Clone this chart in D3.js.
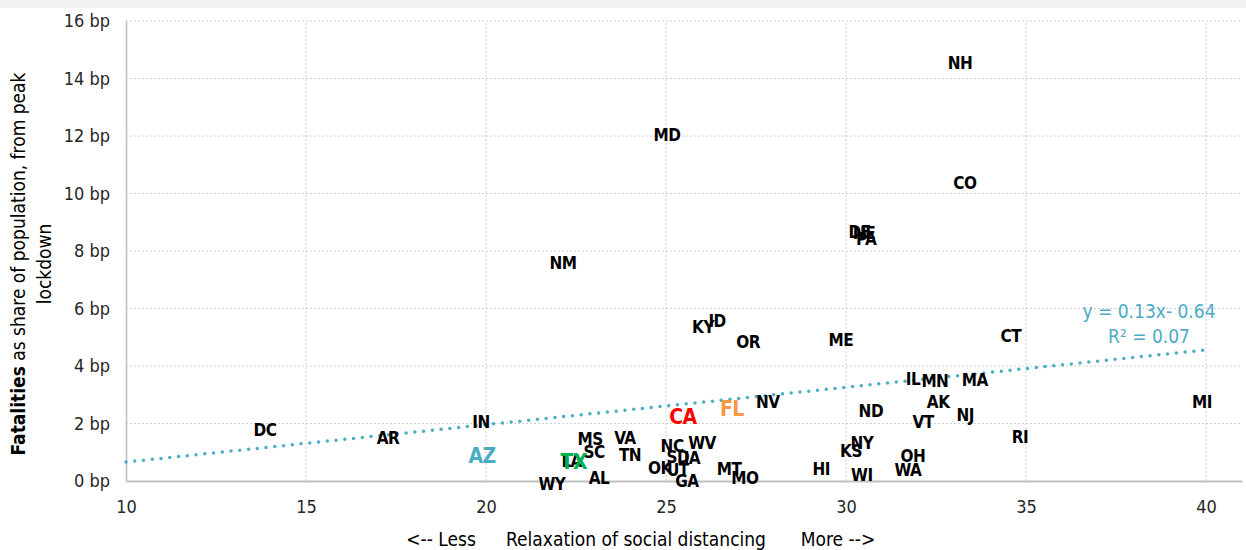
<!DOCTYPE html>
<meta charset="utf-8">
<style>
body { margin: 0; background: #fff; }
svg { display: block; }
svg text { font-family: "DejaVu Sans Condensed", "DejaVu Sans", sans-serif; font-stretch: condensed; }
.tick text { font-size: 18px; fill: #262626; }
.lbl { font-weight: bold; letter-spacing: -0.5px; }
.ttl { font-size: 19px; fill: #000; }
</style>
<script src="https://d3js.org/d3.v7.min.js"></script>
<body></body>
<script>

var width = 1246;
var height = 550;
var margin = { top: 21, right: 4, bottom: 69, left: 126 };

// state codes, social distancing relaxation (x), fatalities in bp (y)
var states = ['NH','MD','CO','DE','NE','PA','NM','KY','ID','OR','ME','CT','IL','MN','MA','AK','NJ','VT','ND','NV','FL','CA','MI','RI','DC','AR','IN','AZ','MS','SC','VA','TN','NC','WV','SD','IA','OK','UT','GA','LA','TX','WY','AL','MT','MO','HI','KS','NY','WI','OH','WA'];
var relaxation = [33.17,25.03,33.3,30.38,30.5,30.56,22.14,26.03,26.42,27.28,29.86,34.58,31.86,32.47,33.58,32.56,33.31,32.14,30.69,27.83,26.83,25.47,39.89,34.83,13.86,17.28,19.86,19.89,22.89,23.0,23.86,24.0,25.17,26.0,25.33,25.72,24.83,25.33,25.58,22.38,22.44,21.83,23.14,26.75,27.19,29.31,30.14,30.44,30.44,31.86,31.72];
var fatalities = [14.54,12.03,10.37,8.65,8.63,8.42,7.58,5.36,5.57,4.83,4.9,5.04,3.55,3.48,3.51,2.75,2.30,2.05,2.43,2.75,2.5,2.23,2.75,1.53,1.77,1.50,2.05,0.87,1.46,1.01,1.50,0.90,1.22,1.32,0.83,0.80,0.45,0.38,0.0,0.68,0.66,-0.1,0.1,0.42,0.1,0.42,1.04,1.32,0.21,0.87,0.38];

// highlighted states
var highlight = { CA: '#ff0000', FL: '#f79646', AZ: '#4bacc6', TX: '#00b050' };

var xTicks = [10, 15, 20, 25, 30, 35, 40];
var yTicks = [0, 2, 4, 6, 8, 10, 12, 14, 16];

// linear trend as printed on the chart
var trendSlope = 0.13;
var trendIntercept = -0.64;
var trendR2 = 0.07;
var trendRange = [10, 40];

var trendColor = '#4bacc6';

var svg = d3.select('body').append('svg')
	.attr('width', width)
	.attr('height', height);

svg.append('rect')
	.attr('width', width)
	.attr('height', 8)
	.attr('fill', '#f2f2f2');

var x = d3.scaleLinear().domain([10, 41]).range([margin.left, width - margin.right]);
var y = d3.scaleLinear().domain([0, 16]).range([height - margin.bottom, margin.top]);

//gridlines
svg.append('g')
	.selectAll('line')
	.data(yTicks.slice(1))
	.enter().append('line')
	.attr('x1', x(10)).attr('x2', x(41))
	.attr('y1', d => y(d)).attr('y2', d => y(d))
	.attr('stroke', '#d0d0d0')
	.attr('stroke-dasharray', '2,2');
svg.append('g')
	.selectAll('line')
	.data(xTicks.slice(1))
	.enter().append('line')
	.attr('x1', d => x(d)).attr('x2', d => x(d))
	.attr('y1', y(0)).attr('y2', y(16))
	.attr('stroke', '#d0d0d0')
	.attr('stroke-dasharray', '2,2');

//axes
var xAxis = svg.append('g')
	.attr('transform', 'translate(0,' + y(0) + ')')
	.call(d3.axisBottom(x).tickValues(xTicks).tickSize(0).tickPadding(19));
xAxis.select('.domain').attr('stroke', '#bfbfbf').attr('stroke-width', 2);

var yAxis = svg.append('g')
	.attr('transform', 'translate(' + x(10) + ',0)')
	.call(d3.axisLeft(y).tickValues(yTicks).tickSize(0).tickPadding(16).tickFormat(d => d + ' bp'));
yAxis.select('.domain').attr('stroke', '#bfbfbf').attr('stroke-width', 1.5);

//trend line
svg.append('line')
	.attr('x1', x(trendRange[0]))
	.attr('y1', y(trendSlope * trendRange[0] + trendIntercept))
	.attr('x2', x(trendRange[1]))
	.attr('y2', y(trendSlope * trendRange[1] + trendIntercept))
	.attr('stroke', trendColor)
	.attr('stroke-width', 3.5)
	.attr('stroke-linecap', 'round')
	.attr('stroke-dasharray', '0,8.8');

svg.append('text')
	.attr('class', 'ttl')
	.attr('x', 1149).attr('y', 318)
	.attr('text-anchor', 'middle')
	.style('fill', trendColor)
	.text('y = ' + trendSlope.toFixed(2) + 'x- ' + Math.abs(trendIntercept).toFixed(2));
svg.append('text')
	.attr('class', 'ttl')
	.attr('x', 1149).attr('y', 343)
	.attr('text-anchor', 'middle')
	.style('fill', trendColor)
	.text('R² = ' + trendR2.toFixed(2));

//state labels
var pts = states.map((s, i) => ({ s: s, x: relaxation[i], y: fatalities[i] }));
pts.sort((a, b) => (highlight[a.s] ? 1 : 0) - (highlight[b.s] ? 1 : 0));
svg.append('g')
	.selectAll('text')
	.data(pts)
	.enter().append('text')
	.attr('class', 'lbl')
	.attr('x', d => x(d.x))
	.attr('y', d => y(d.y))
	.attr('dy', '0.35em')
	.attr('text-anchor', 'middle')
	.attr('font-size', d => highlight[d.s] ? 21 : 17)
	.attr('fill', d => highlight[d.s] || '#000')
	.text(d => d.s);

//axis titles
var yt = svg.append('text')
	.attr('class', 'ttl')
	.attr('transform', 'translate(25,264) rotate(-90)')
	.attr('text-anchor', 'middle');
yt.append('tspan').attr('font-weight', 'bold').text('Fatalities');
yt.append('tspan').text(' as share of population, from peak');
svg.append('text')
	.attr('class', 'ttl')
	.attr('transform', 'translate(51,264) rotate(-90)')
	.attr('text-anchor', 'middle')
	.text('lockdown');

svg.append('text').attr('class', 'ttl').attr('x', 441).attr('y', 546).attr('text-anchor', 'middle').text('<-- Less');
svg.append('text').attr('class', 'ttl').attr('x', 636).attr('y', 546).attr('text-anchor', 'middle').text('Relaxation of social distancing');
svg.append('text').attr('class', 'ttl').attr('x', 838).attr('y', 546).attr('text-anchor', 'middle').text('More -->');

</script>
